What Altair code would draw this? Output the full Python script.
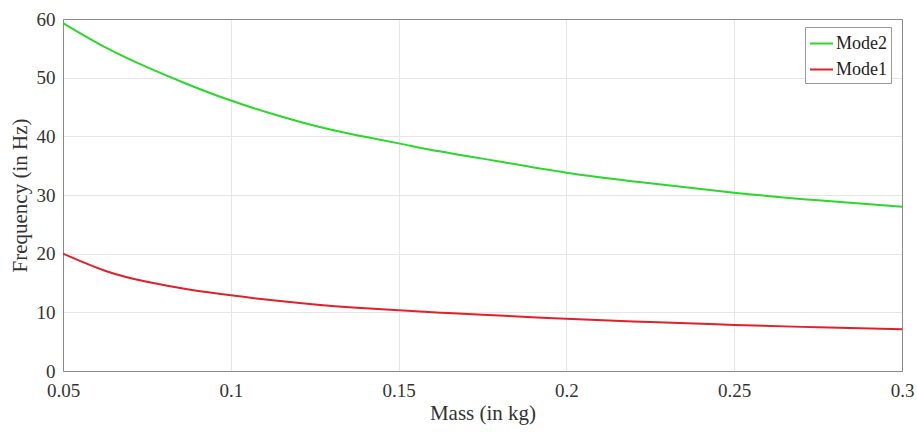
import altair as alt
import pandas as pd

mass = [0.05, 0.0625, 0.075, 0.0875, 0.1, 0.1125, 0.125, 0.1375, 0.15, 0.1625, 0.175, 0.2, 0.225, 0.25, 0.275, 0.3]
mode2 = [59.3, 55.2, 51.8, 48.8, 46.1, 43.8, 41.8, 40.2, 38.8, 37.4, 36.2, 33.8, 32.0, 30.4, 29.1, 28.0]
mode1 = [20.0, 17.1, 15.2, 13.9, 12.9, 12.05, 11.35, 10.8, 10.35, 9.95, 9.6, 8.9, 8.35, 7.85, 7.45, 7.1]
series = ["Mode2", "Mode1"]
colors = ["#2ad82a", "#e0202a"]
x_ticks = [0.05, 0.1, 0.15, 0.2, 0.25, 0.3]
y_ticks = [0, 10, 20, 30, 40, 50, 60]

rows = []
for m, v in zip(mass, mode2):
    rows.append({"mass": m, "freq": v, "mode": "Mode2"})
for m, v in zip(mass, mode1):
    rows.append({"mass": m, "freq": v, "mode": "Mode1"})
df = pd.DataFrame(rows)

FONT = "Liberation Serif"
GRID = "#e6e6e6"
AX = "#8a8a8a"
TXT = "#333333"

xscale = alt.Scale(domain=[0.05, 0.3], nice=False, zero=False)
yscale = alt.Scale(domain=[0, 60], nice=False)

main = alt.Chart(df).mark_line(strokeWidth=2, interpolate="natural").encode(
    x=alt.X("mass:Q", scale=xscale,
            axis=alt.Axis(title="Mass (in kg)", values=x_ticks, format="~g",
                          grid=True, gridColor=GRID, domainColor=AX, tickSize=0,
                          labelFlush=False, labelOverlap=False,
                          labelFont=FONT, labelFontSize=19, labelColor=TXT,
                          labelPadding=10, titleFont=FONT, titleFontSize=21,
                          titleFontWeight="normal", titleColor=TXT, titlePadding=2)),
    y=alt.Y("freq:Q", scale=yscale,
            axis=alt.Axis(title="Frequency (in Hz)", values=y_ticks,
                          grid=True, gridColor=GRID, domainColor=AX, tickSize=0,
                          labelFlush=False, labelOverlap=False,
                          labelFont=FONT, labelFontSize=19, labelColor=TXT,
                          labelPadding=8, titleFont=FONT, titleFontSize=21,
                          titleFontWeight="normal", titleColor=TXT, titlePadding=6)),
    color=alt.Color("mode:N", scale=alt.Scale(domain=series, range=colors),
                    sort=series,
                    legend=alt.Legend(title=None, orient="none", legendX=742, legendY=8,
                                      fillColor="white", strokeColor="#9a9a9a",
                                      padding=4, symbolType="stroke", symbolSize=529,
                                      symbolStrokeWidth=2, labelFont=FONT,
                                      labelFontSize=18, labelColor="#222222",
                                      labelOffset=2, rowPadding=4)),
)

frame = alt.Chart(df).mark_line(opacity=0).encode(
    x=alt.X("mass:Q", scale=xscale,
            axis=alt.Axis(orient="top", title=None, labels=False, ticks=False,
                          grid=False, domainColor=AX, values=x_ticks)),
    y=alt.Y("freq:Q", scale=yscale,
            axis=alt.Axis(orient="right", title=None, labels=False, ticks=False,
                          grid=False, domainColor=AX, values=y_ticks)),
)

chart = alt.layer(main, frame).resolve_axis(x="independent", y="independent").properties(
    width=839, height=352,
    autosize=alt.AutoSizeParams(type="none"),
    padding={"left": 63, "top": 19, "right": 15, "bottom": 61},
).configure_view(stroke=None).configure(background="white")

chart.save("out.html", embed_options={"renderer": "svg", "actions": False})
